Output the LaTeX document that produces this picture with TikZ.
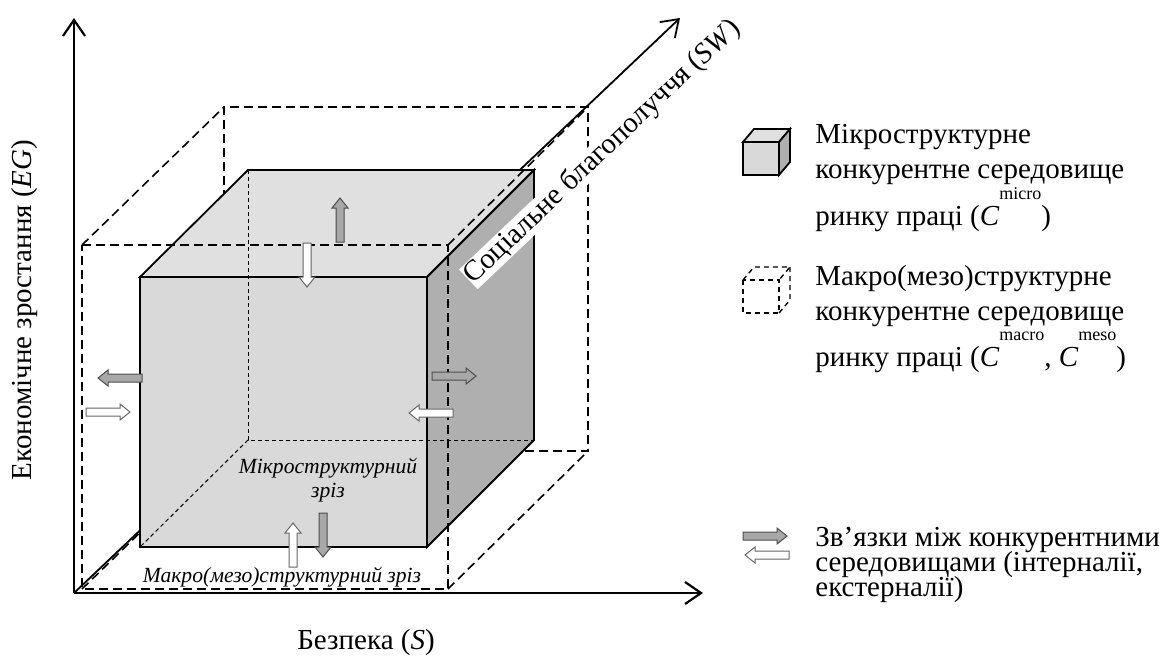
\documentclass[tikz,border=0pt]{standalone}
\usepackage{fontspec}
\setmainfont{Liberation Serif}
\usetikzlibrary{arrows.meta}
\definecolor{topface}{HTML}{E0E0E0}
\definecolor{frontface}{HTML}{D9D9D9}
\definecolor{sideface}{HTML}{AFAFAF}
\definecolor{garrow}{HTML}{A8A8A8}
\tikzset{
  axisline/.style={line width=1.1pt,-{Straight Barb[length=8pt,width=11pt,line width=1.1pt]}},
  hid/.style={dash pattern=on 4.5pt off 2.5pt,line width=0.8pt},
  fine/.style={dash pattern=on 2pt off 1.5pt,line width=0.5pt},
  cubeedge/.style={line width=0.9pt,line join=miter},
  blkarrow/.pic={\path[pic actions] (0,-4)--(34,-4)--(34,-8)--(44,0)--(34,8)--(34,4)--(0,4)--cycle;},
  outarrow/.style={fill=garrow,draw=black!70,line width=0.5pt},
  inarrow/.style={fill=white,draw=black!60,line width=0.5pt},
  lbl/.style={font=\fontsize{14.5}{17}\selectfont,inner sep=0pt},
  ital/.style={font=\fontsize{10.8}{13}\selectfont\itshape,inner sep=0pt},
  legline/.style={font=\fontsize{14.5}{17}\selectfont,inner sep=0pt,anchor=base west},
}
\newcommand\supx[2]{\raisebox{#1}{\fontsize{9}{9}\selectfont #2}}
\begin{document}
\begin{tikzpicture}[x=0.5pt,y=-0.5pt]
\useasboundingbox (0,0) rectangle (1170,659);
% axes
\coordinate (O) at (74,593);
\coordinate (EGtip) at (74,18);
\coordinate (Stip) at (703,593);
\coordinate (SWtip) at (680,18);
\draw[axisline] (O) -- (EGtip);
\draw[axisline] (O) -- (Stip);
\draw[line width=0.9pt,-{Straight Barb[length=8pt,width=11pt,line width=0.9pt]}] (O) -- (SWtip);
% outer (macro) box: back part
\coordinate (bA) at (224,107); \coordinate (bB) at (588,107);
\coordinate (bC) at (588,451); \coordinate (bD) at (224,451);
\coordinate (fA) at (82,245);  \coordinate (fB) at (448,245);
\coordinate (fC) at (448,589); \coordinate (fD) at (82,589);
\draw[hid] (bD) -- (bA) -- (bB) -- (bC) -- cycle;
\draw[hid] (fD) -- (bD);
% cube
\coordinate (cA) at (140,277); \coordinate (cB) at (427,277);
\coordinate (cC) at (427,547); \coordinate (cD) at (140,547);
\coordinate (kA) at (248,170); \coordinate (kB) at (534,170);
\coordinate (kC) at (534,440); \coordinate (kD) at (248,440);
\filldraw[cubeedge,fill=frontface] (cA) -- (cB) -- (cC) -- (cD) -- cycle;
\filldraw[cubeedge,fill=topface] (cA) -- (kA) -- (kB) -- (cB) -- cycle;
\filldraw[cubeedge,fill=sideface] (cB) -- (kB) -- (kC) -- (cC) -- cycle;
\draw[fine] (kA) -- (kD) -- (kC);
\draw[fine] (kD) -- (cD);
% outer box: front part
\draw[hid] (fA) -- (fB) -- (fC) -- (fD) -- cycle;
\draw[hid] (fA) -- (bA);
\draw[hid] (fB) -- (bB);
\draw[hid] (fC) -- (bC);
% SW label
\path (O) -- (SWtip) node[sloped,pos=0.822,below=15pt,fill=white,inner sep=2.5pt,lbl] (swl) {Соціальне благополуччя (\textit{SW})};
% block arrows
\pic[outarrow,rotate=90] at (340,242) {blkarrow};
\pic[inarrow,rotate=-90] at (307,243) {blkarrow};
\pic[outarrow,rotate=180] at (142,378) {blkarrow};
\pic[inarrow] at (86,412) {blkarrow};
\pic[outarrow] at (432,376) {blkarrow};
\pic[inarrow,rotate=180] at (453,413) {blkarrow};
\pic[inarrow,rotate=90] at (293,567) {blkarrow};
\pic[outarrow,rotate=-90] at (323,513) {blkarrow};
% labels
\node[lbl,rotate=90] (eg) at (25,310) {Економічне зростання (\textit{EG})};
\node[lbl] (s) at (366,643) {Безпека (\textit{S})};
\node[ital] (mic1) at (328,468) {Мікроструктурний};
\node[ital] (mic2) at (328,493) {зріз};
\node[ital] (mac) at (282,577) {Макро(мезо)структурний зріз};
% legend: solid cube
\filldraw[cubeedge,fill=frontface] (743,142) rectangle (779,175);
\filldraw[cubeedge,fill=topface] (743,142) -- (754,129) -- (790,129) -- (779,142) -- cycle;
\filldraw[cubeedge,fill=sideface] (779,142) -- (790,129) -- (790,162) -- (779,175) -- cycle;
\node[legline] (l11) at (815,143) {Мікроструктурне};
\node[legline] (l12) at (815,178) {конкурентне середовище};
\node[legline] (l13) at (815,225) {ринку праці (\textit{C}\supx{13pt}{micro})};
% legend: dashed cube
\draw[dash pattern=on 2.5pt off 2pt,line width=0.7pt] (743,280) rectangle (779,313);
\draw[dash pattern=on 2.5pt off 2pt,line width=0.7pt] (743,280) -- (754,267) -- (790,267) -- (779,280);
\draw[dash pattern=on 2.5pt off 2pt,line width=0.7pt] (790,267) -- (790,300) -- (779,313);
\node[legline] (l21) at (815,285) {Макро(мезо)структурне};
\node[legline] (l22) at (815,320) {конкурентне середовище};
\node[legline] (l23) at (815,366) {ринку праці (\textit{C}\supx{13pt}{macro}, \textit{C}\supx{13pt}{meso})};
% legend: arrows
\pic[outarrow] at (743,536) {blkarrow};
\pic[inarrow,rotate=180] at (789,555) {blkarrow};
\node[legline] (l31) at (815,546) {Зв’язки між конкурентними};
\node[legline] (l32) at (815,571) {середовищами (інтерналії,};
\node[legline] (l33) at (815,596) {екстерналії)};
\end{tikzpicture}
\end{document}
